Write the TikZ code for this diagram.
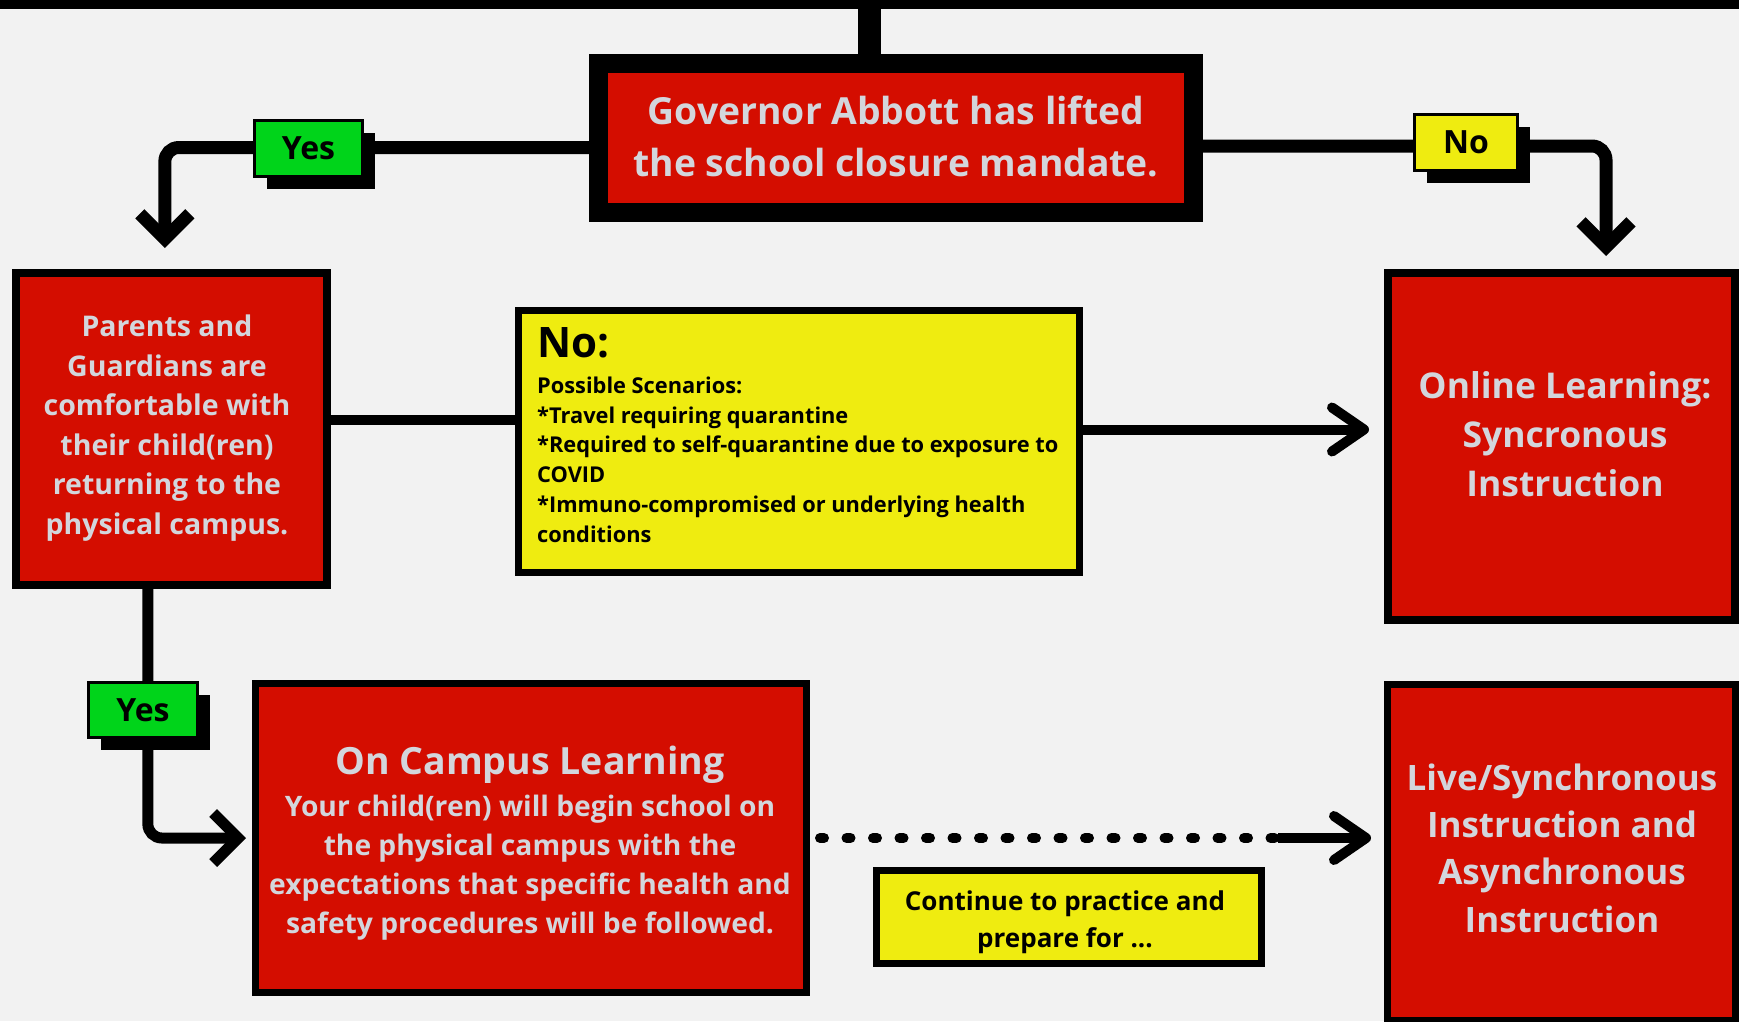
\documentclass[tikz,border=0pt]{standalone}
\usepackage{fontspec}
\setmainfont{Open Sans}
\usetikzlibrary{arrows.meta,shadows,calc}
\definecolor{bgc}{HTML}{F2F2F2}
\definecolor{boxred}{HTML}{D40D00}
\definecolor{boxyel}{HTML}{EFEC10}
\definecolor{labgreen}{HTML}{00D41A}
\definecolor{txtgray}{HTML}{D3D6DC}
\pgfdeclarelayer{back}
\pgfdeclarelayer{lines}
\pgfsetlayers{back,lines,main}
\begin{document}
\begin{tikzpicture}[x=1pt,y=-1pt,
  box/.style={draw=black, inner sep=0pt, anchor=center},
  redbox/.style={box, fill=boxred},
  yelbox/.style={box, fill=boxyel},
  lab/.style={draw=black, line width=3pt, outer sep=1.5pt, inner sep=0pt,
    font=\fontsize{32}{32}\selectfont\bfseries, text=black,
    drop shadow={shadow xshift=12pt, shadow yshift=-12pt, fill=black, opacity=1}},
  graytxt/.style={text=txtgray, align=center, inner sep=0pt},
  blacktxt/.style={text=black, inner sep=0pt},
  conn/.style={draw=black, line width=13pt},
  midconn/.style={draw=black, line width=10pt},
  sharpbarb/.tip={Straight Barb[length=25pt,width=50pt]},
  roundbarb/.tip={Straight Barb[length=32pt,width=44pt,round]}
]
\useasboundingbox (0,0) rectangle (1739,1021);
\begin{pgfonlayer}{back}
  \fill[bgc] (0,0) rectangle (1739,1021);
\end{pgfonlayer}

% top bar
\node[fill=black, minimum width=1739pt, minimum height=9pt, inner sep=0pt, outer sep=0pt, anchor=north west] (topbar) at (0,0) {};
\coordinate (stemtop) at (869.5,5);

% boxes
\node[redbox, line width=19pt, outer sep=9.5pt, minimum width=595pt, minimum height=149pt] (gov) at (896,138) {};
\node[redbox, line width=8pt, outer sep=4pt, minimum width=311.3pt, minimum height=312pt] (parents) at (171.35,429) {};
\node[yelbox, line width=7pt, outer sep=3.5pt, minimum width=561pt, minimum height=262pt] (nobox) at (799,441.5) {};
\node[redbox, line width=8pt, outer sep=4pt, minimum width=347pt, minimum height=347pt] (online) at (1561.5,446.5) {};
\node[redbox, line width=7pt, outer sep=3.5pt, minimum width=551pt, minimum height=309pt] (campus) at (531,838) {};
\node[yelbox, line width=7pt, outer sep=3.5pt, minimum width=385pt, minimum height=93pt] (cont) at (1069,917) {};
\node[redbox, line width=7pt, outer sep=3.5pt, minimum width=348pt, minimum height=336pt] (live) at (1561.5,852.5) {};

% texts
\node[graytxt, font=\fontsize{37.3}{52}\selectfont\bfseries] (govtxt) at (896,136)
  {Governor Abbott has lifted\\the school closure mandate.};
\node[graytxt, font=\fontsize{28.5}{39.6}\selectfont\bfseries] (parentstxt) at (167,428)
  {Parents and\\Guardians are\\comfortable with\\their child(ren)\\returning to the\\physical campus.};
\node[blacktxt, anchor=base west, font=\fontsize{42}{42}\selectfont\bfseries] (nohead) at (537,357) {No:};
\node[blacktxt, anchor=north west, align=left, font=\fontsize{21.8}{29.8}\selectfont\bfseries] (nolist) at (537,376.5)
  {Possible Scenarios:\\*Travel requiring quarantine\\*Required to self-quarantine due to exposure to\\COVID\\*Immuno-compromised or underlying health\\conditions};
\node[graytxt, font=\fontsize{35.5}{49}\selectfont\bfseries] (onlinetxt) at (1565,434)
  {Online Learning:\\Syncronous\\Instruction};
\node[graytxt, font=\fontsize{35}{47.3}\selectfont\bfseries] (livetxt) at (1562,848)
  {Live/Synchronous\\Instruction and\\Asynchronous\\Instruction};
\node[graytxt, font=\fontsize{37.5}{37.5}\selectfont\bfseries] (camptitle) at (530,765) {On Campus Learning};
\node[graytxt, font=\fontsize{28.2}{39}\selectfont\bfseries] (campbody) at (530,867.5)
  {Your child(ren) will begin school on\\the physical campus with the\\expectations that specific health and\\safety procedures will be followed.};
\node[blacktxt, align=center, font=\fontsize{26}{37}\selectfont\bfseries] (conttxt) at (1065,922.5)
  {Continue to practice and\\prepare for ...};

% labels
\node[lab, fill=labgreen, minimum width=108pt, minimum height=56pt] (yes1) at (308.5,148.5) {Yes};
\node[lab, fill=boxyel, minimum width=103pt, minimum height=56pt] (no1) at (1466,142.5) {No};
\node[lab, fill=labgreen, minimum width=109pt, minimum height=55pt] (yes2) at (143,710) {Yes};

% connectors
\begin{pgfonlayer}{lines}
  \draw[line width=23pt] (stemtop) -- (stemtop |- gov.north);
  \coordinate (yesjoin) at ($(yes1.center)+(0,-1)$);
  \draw[conn, rounded corners=14pt, -{sharpbarb}, shorten >=21pt]
    (gov.west |- yesjoin) -- (yesjoin) -| ([xshift=-6.5pt]parents.north);
  \coordinate (nojoin) at ($(no1.center)+(0,3.5)$);
  \draw[conn, rounded corners=14pt, -{sharpbarb}, shorten >=13pt]
    (gov.east |- nojoin) -- (nojoin) -| ([xshift=44.5pt]online.north);
  \draw[midconn] ([yshift=9pt]parents.east) -- ([yshift=9pt]parents.east -| nobox.west);
  \draw[midconn, -{roundbarb}, shorten >=15pt]
    ([yshift=12pt]nobox.east) -- ([yshift=12pt]nobox.east -| online.west);
  \draw[draw=black, line width=11pt, rounded corners=14pt, -{sharpbarb}, shorten >=6pt]
    ([xshift=-23.5pt]parents.south) |- (campus.west);
  \coordinate (dotend) at (1278,838);
  \draw[draw=black, line width=10pt, line cap=round, dash pattern=on 4pt off 22.5pt]
    ([xshift=10pt]campus.east) -- (dotend);
  \draw[midconn, -{roundbarb}, shorten >=13pt] (dotend) -- (dotend -| live.west);
\end{pgfonlayer}
\end{tikzpicture}
\end{document}
